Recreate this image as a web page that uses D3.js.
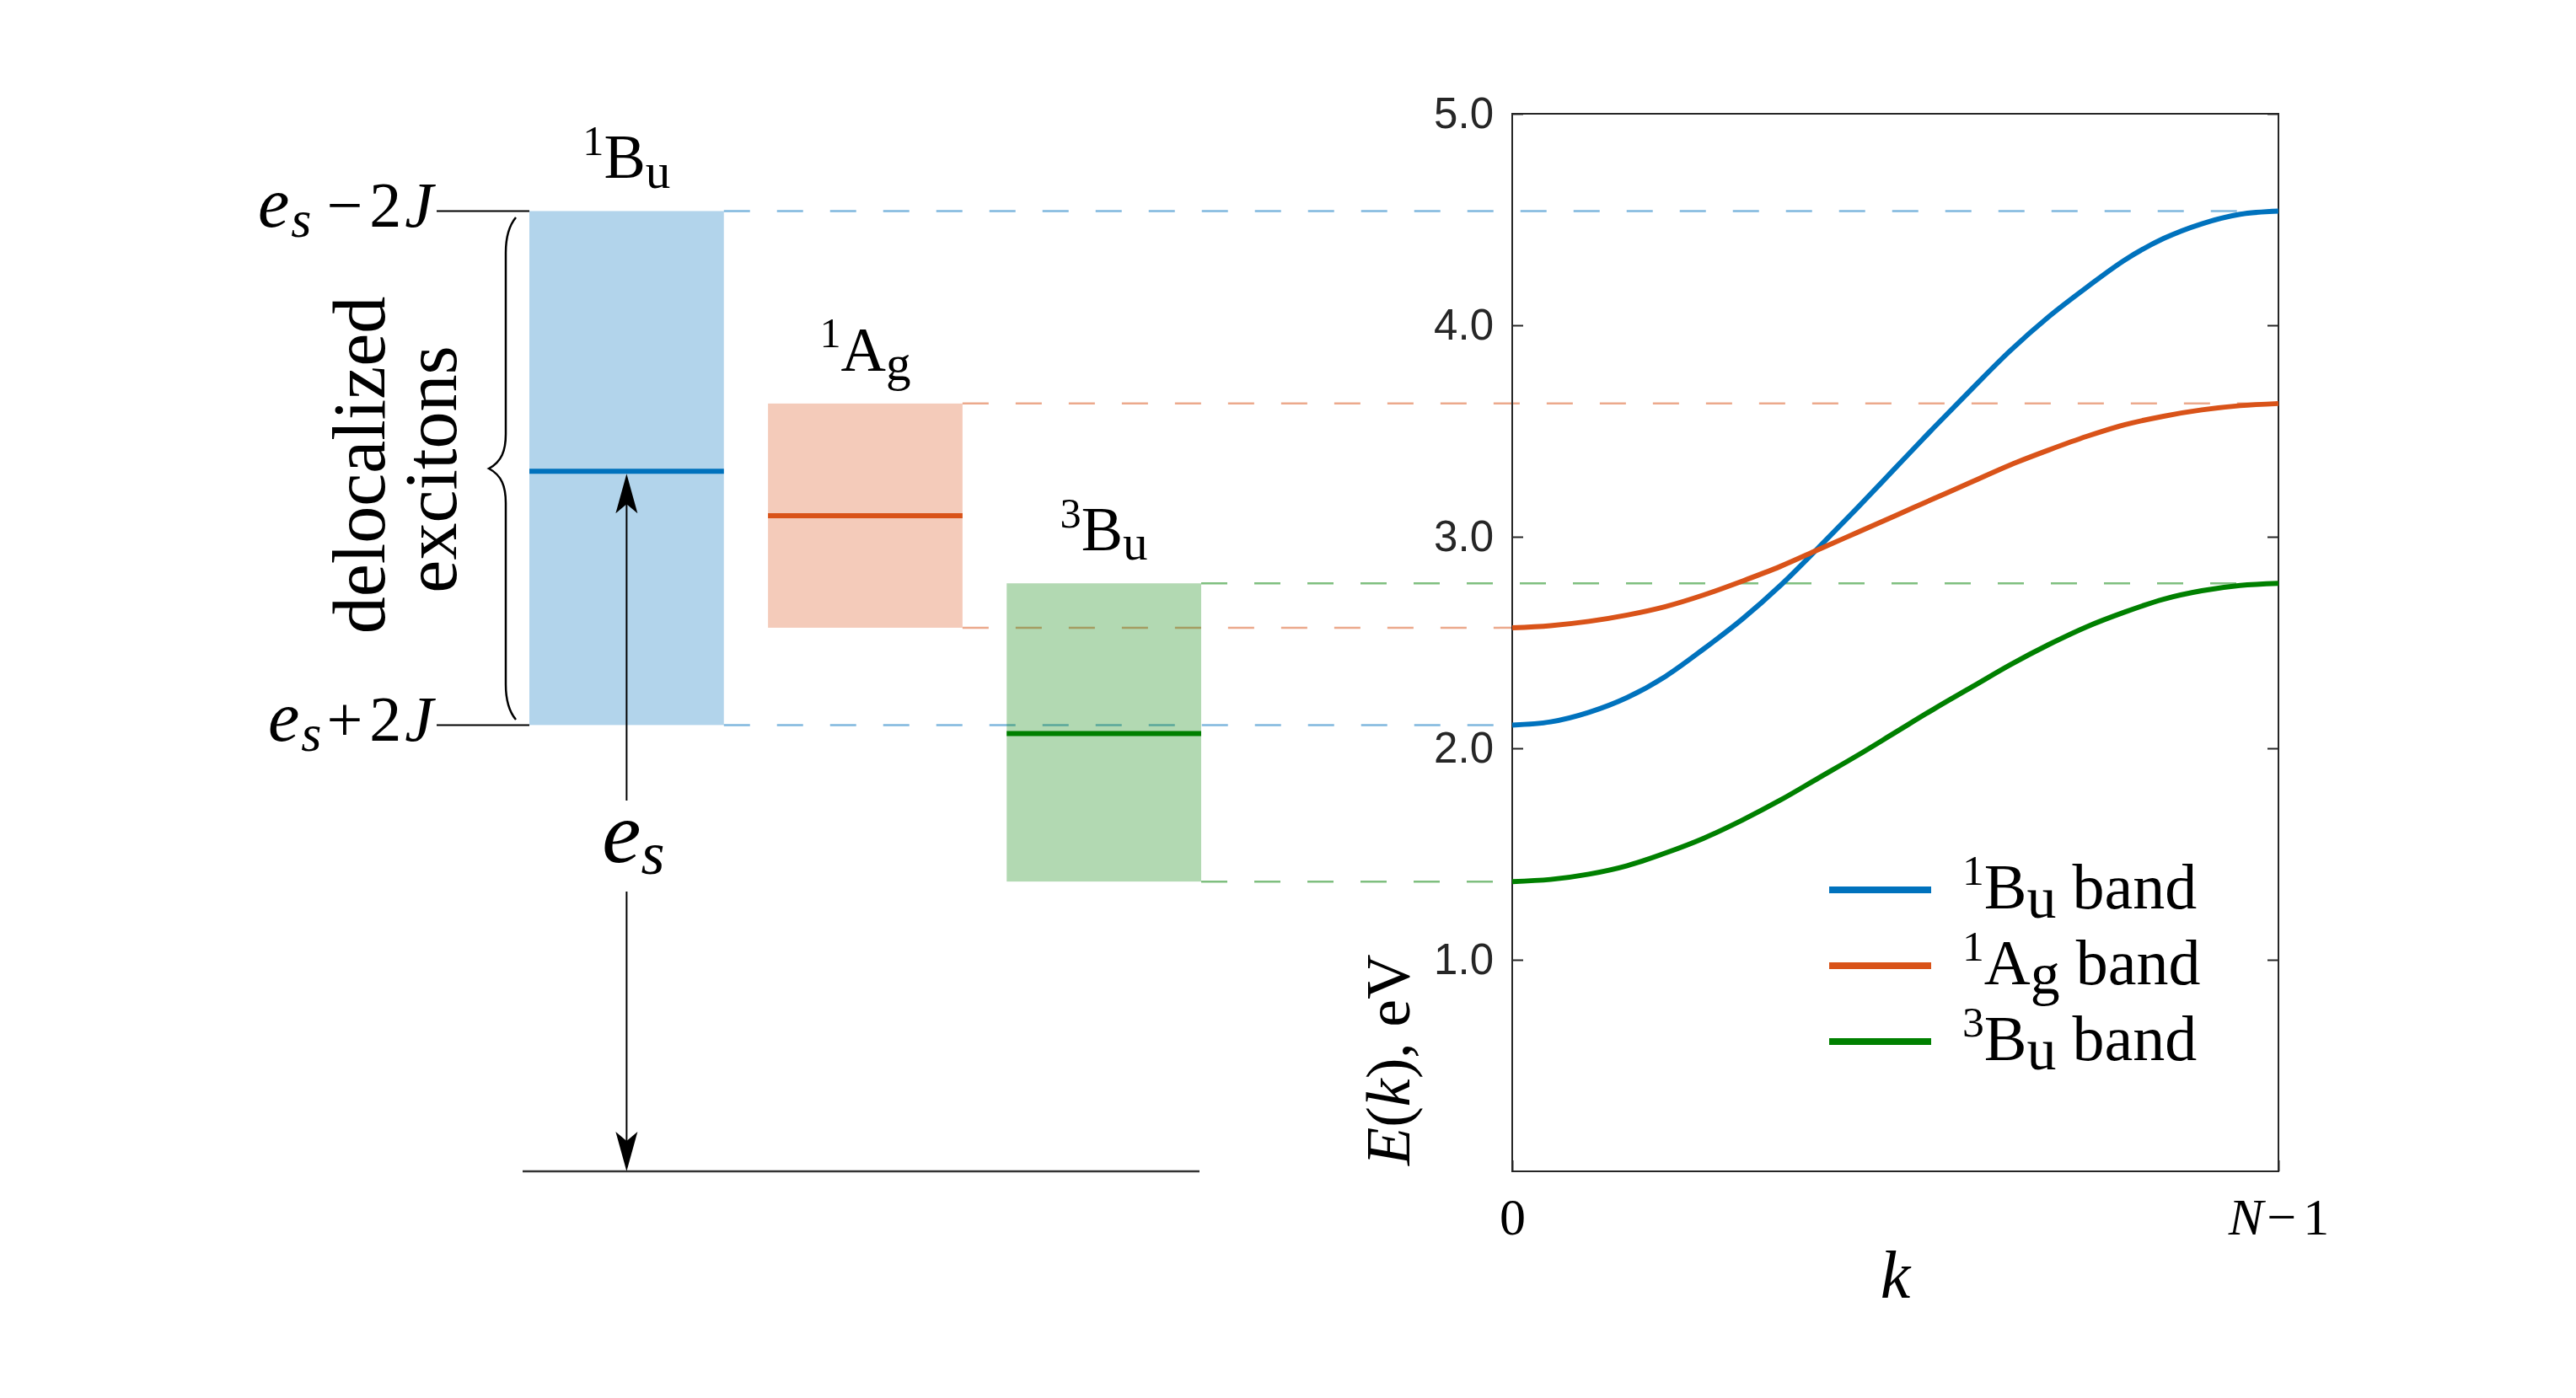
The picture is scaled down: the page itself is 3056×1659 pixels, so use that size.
<!DOCTYPE html>
<html>
<head>
<meta charset="utf-8">
<script src="https://cdn.jsdelivr.net/npm/d3@7"></script>
<style>
  body { margin: 0; background: #fff; }
  svg { display: block; }
</style>
</head>
<body>
<svg id="chart"></svg>
<script>
// band dispersion, k given as fraction of N-1
const kFrac = [0, 0.05, 0.1, 0.15, 0.2, 0.25, 0.3, 0.35, 0.4, 0.45, 0.5,
  0.55, 0.6, 0.65, 0.7, 0.75, 0.8, 0.85, 0.9, 0.95, 1];
const band1Bu = [2.11, 2.125, 2.17, 2.24, 2.34, 2.47, 2.61, 2.77, 2.95, 3.135, 3.325,
  3.515, 3.70, 3.88, 4.04, 4.18, 4.31, 4.41, 4.48, 4.525, 4.54];
const band1Ag = [2.57, 2.58, 2.60, 2.63, 2.67, 2.725, 2.79, 2.86, 2.94, 3.02, 3.10,
  3.18, 3.26, 3.34, 3.41, 3.475, 3.53, 3.57, 3.60, 3.62, 3.63];
const band3Bu = [1.37, 1.38, 1.405, 1.445, 1.505, 1.575, 1.66, 1.755, 1.86, 1.965, 2.075,
  2.185, 2.29, 2.395, 2.49, 2.575, 2.645, 2.705, 2.745, 2.77, 2.78];

// states on the left level diagram
const stateSup = ["1", "1", "3"];
const stateBase = ["B", "A", "B"];
const stateSub = ["u", "g", "u"];
const stateLevel = [3.31, 3.10, 2.07];

const yTicks = [1, 2, 3, 4, 5];
const kTicks = [0, 1];

const colors = ["#0072bd", "#d95319", "#008000"];
const bands = [band1Bu, band1Ag, band3Bu];

const W = 3056, H = 1659;
const serif = "'Liberation Serif', 'DejaVu Serif', serif";
const sans = "'Liberation Sans', Arial, sans-serif";

const svg = d3.select("#chart").attr("width", W).attr("height", H);
svg.append("rect").attr("width", W).attr("height", H).attr("fill", "white");

const x = d3.scaleLinear().domain([0, 1]).range([1794, 2703]);
const y = d3.scaleLinear().domain([0, 5]).range([1390, 135]);
const xs = d3.scaleBand().domain(d3.range(3)).range([628, 1425]).paddingInner(0.185);

// state label with superscript and subscript
function stateText(sel, fs, i, subR, rest) {
  const up = fs * 0.37, down = fs * 0.15;
  sel.append("tspan").attr("font-size", fs * 0.68).attr("dy", -up).text(stateSup[i]);
  sel.append("tspan").attr("font-size", fs).attr("dy", up).text(stateBase[i]);
  sel.append("tspan").attr("font-size", fs * subR).attr("dy", down).text(stateSub[i]);
  if (rest) sel.append("tspan").attr("font-size", fs).attr("dy", -down).text(rest);
}

// ---- dashed guides from the boxes to the band edges
const guides = svg.append("g");
bands.forEach((b, i) => {
  const x0 = xs(i) + xs.bandwidth();
  guides.append("line")
    .attr("x1", x0).attr("x2", x(1))
    .attr("y1", y(d3.max(b))).attr("y2", y(d3.max(b)));
  guides.append("line")
    .attr("x1", x0).attr("x2", x(0))
    .attr("y1", y(d3.min(b))).attr("y2", y(d3.min(b)));
});
guides.selectAll("line")
  .attr("stroke", (d, j) => colors[Math.floor(j / 2)])
  .attr("stroke-opacity", 0.5)
  .attr("stroke-width", 2.5)
  .attr("stroke-dasharray", "31,32");

// ---- level boxes
const left = svg.append("g");
left.selectAll("rect.box")
  .data(bands)
  .join("rect")
  .attr("class", "box")
  .attr("x", (d, i) => xs(i))
  .attr("width", xs.bandwidth())
  .attr("y", d => y(d3.max(d)))
  .attr("height", d => y(d3.min(d)) - y(d3.max(d)))
  .attr("fill", (d, i) => colors[i])
  .attr("fill-opacity", 0.3);

left.selectAll("line.level")
  .data(stateLevel)
  .join("line")
  .attr("class", "level")
  .attr("x1", (d, i) => xs(i))
  .attr("x2", (d, i) => xs(i) + xs.bandwidth())
  .attr("y1", d => y(d)).attr("y2", d => y(d))
  .attr("stroke", (d, i) => colors[i])
  .attr("stroke-width", 6);

bands.forEach((b, i) => {
  const t = left.append("text")
    .attr("x", xs(i) + xs.bandwidth() / 2)
    .attr("y", y(d3.max(b)) - 39)
    .attr("text-anchor", "middle")
    .attr("font-family", serif);
  stateText(t, 74, i, 0.8);
});

// ground line
left.append("line")
  .attr("x1", 620).attr("x2", 1423)
  .attr("y1", y(0)).attr("y2", y(0))
  .attr("stroke", "#333").attr("stroke-width", 2.5);

// e_s -+ 2J markers
const eTop = y(d3.max(band1Bu)), eBot = y(d3.min(band1Bu));
[eTop, eBot].forEach((yy, j) => {
  left.append("line")
    .attr("x1", 518).attr("x2", xs(0))
    .attr("y1", yy).attr("y2", yy)
    .attr("stroke", "black").attr("stroke-width", 2);
  const t = left.append("text")
    .attr("x", 514).attr("y", yy + 19)
    .attr("text-anchor", "end")
    .attr("font-family", serif).attr("font-size", 76);
  t.append("tspan").attr("font-style", "italic").attr("font-size", 84).text("e");
  t.append("tspan").attr("font-style", "italic").attr("font-size", 62).attr("dy", 12).attr("dx", 2).text("s");
  t.append("tspan").attr("dy", -12).attr("dx", j == 0 ? 18 : 6).text(j == 0 ? "\u2212" : "+");
  t.append("tspan").attr("dx", 8).text("2");
  t.append("tspan").attr("font-style", "italic").attr("dx", 4).text("J");
});

// curly brace
left.append("path")
  .attr("d", "M612,258 C602,270 600,285 600,300 L600,515 C600,535 595,548 580,556 C595,564 600,577 600,597 L600,812 C600,827 602,842 612,854")
  .attr("fill", "none").attr("stroke", "black").attr("stroke-width", 2.5);

left.append("text")
  .attr("transform", "translate(456,552) rotate(-90)")
  .attr("text-anchor", "middle")
  .attr("font-family", serif).attr("font-size", 88)
  .text("delocalized");
left.append("text")
  .attr("transform", "translate(541,557) rotate(-90)")
  .attr("text-anchor", "middle")
  .attr("font-family", serif).attr("font-size", 88)
  .text("excitons");

// e_s arrows
const ax = xs(0) + xs.bandwidth() / 2;
function arrowHead(tipY, dir) {
  // dir = -1 points up, +1 points down
  const b = tipY - dir * 47, n = tipY - dir * 36;
  return `M${ax},${tipY} L${ax - 13},${b} L${ax},${n} L${ax + 13},${b} Z`;
}
left.append("line")
  .attr("x1", ax).attr("x2", ax)
  .attr("y1", 950).attr("y2", y(stateLevel[0]) + 30)
  .attr("stroke", "black").attr("stroke-width", 2);
left.append("path").attr("d", arrowHead(y(stateLevel[0]) + 3, -1)).attr("fill", "black");
left.append("line")
  .attr("x1", ax).attr("x2", ax)
  .attr("y1", 1058).attr("y2", y(0) - 30)
  .attr("stroke", "black").attr("stroke-width", 2);
left.append("path").attr("d", arrowHead(y(0), 1)).attr("fill", "black");

const es = left.append("text")
  .attr("x", ax + 8).attr("y", 1023)
  .attr("text-anchor", "middle")
  .attr("font-family", serif).attr("font-size", 104);
es.append("tspan").attr("font-style", "italic").text("e");
es.append("tspan").attr("font-style", "italic").attr("font-size", 72).attr("dy", 14).text("s");

// ---- right panel: band curves
const plot = svg.append("g");

const yAxisL = d3.axisLeft(y).tickValues(yTicks).tickSize(-13).tickPadding(22)
  .tickFormat(d3.format(".1f"));
const gl = plot.append("g").attr("transform", `translate(${x(0)},0)`).call(yAxisL);
gl.select(".domain").remove();
gl.selectAll("line").attr("stroke", "#262626").attr("stroke-width", 2);
gl.selectAll("text").attr("font-family", sans).attr("font-size", 51).attr("fill", "#262626");

const gr = plot.append("g").attr("transform", `translate(${x(1)},0)`)
  .call(d3.axisRight(y).tickValues(yTicks).tickSize(-13).tickFormat(""));
gr.select(".domain").remove();
gr.selectAll("line").attr("stroke", "#262626").attr("stroke-width", 2);

const gb = plot.append("g").attr("transform", `translate(0,${y(0)})`)
  .call(d3.axisBottom(x).tickValues(kTicks).tickSize(-13).tickFormat(""));
gb.select(".domain").remove();
gb.selectAll("line").attr("stroke", "#262626").attr("stroke-width", 2);
gb.selectAll(".tick").each(function (d) {
  const t = d3.select(this).append("text")
    .attr("y", 75).attr("fill", "black")
    .attr("text-anchor", "middle")
    .attr("font-family", serif).attr("font-size", 62);
  if (d == 0) t.text("0");
  else {
    t.append("tspan").attr("font-style", "italic").text("N");
    t.append("tspan").attr("dx", 4).text("\u2212");
    t.append("tspan").attr("dx", 8).text("1");
  }
});

plot.append("rect")
  .attr("x", x(0)).attr("y", y(5))
  .attr("width", x(1) - x(0)).attr("height", y(0) - y(5))
  .attr("fill", "none").attr("stroke", "#262626").attr("stroke-width", 2);

const line = d3.line()
  .x((d, i) => x(kFrac[i]))
  .y(d => y(d))
  .curve(d3.curveMonotoneX);

plot.selectAll("path.band")
  .data(bands)
  .join("path")
  .attr("class", "band")
  .attr("d", line)
  .attr("fill", "none")
  .attr("stroke", (d, i) => colors[i])
  .attr("stroke-width", 6);

// axis labels
plot.append("text")
  .attr("x", (x(0) + x(1)) / 2).attr("y", 1540)
  .attr("text-anchor", "middle")
  .attr("font-family", serif).attr("font-style", "italic").attr("font-size", 80)
  .text("k");

const yl = plot.append("text")
  .attr("transform", "translate(1672,1383) rotate(-90)")
  .attr("font-family", serif).attr("font-size", 74);
yl.append("tspan").attr("font-style", "italic").text("E");
yl.append("tspan").text("(");
yl.append("tspan").attr("font-style", "italic").text("k");
yl.append("tspan").text("), eV");

// legend
const legend = plot.append("g");
bands.forEach((b, i) => {
  const ly = 1056 + i * 90;
  legend.append("line")
    .attr("x1", 2170).attr("x2", 2291)
    .attr("y1", ly).attr("y2", ly)
    .attr("stroke", colors[i]).attr("stroke-width", 8);
  const t = legend.append("text")
    .attr("x", 2328).attr("y", ly + 22)
    .attr("font-family", serif);
  stateText(t, 76, i, 0.92, " band");
});
</script>
</body>
</html>
